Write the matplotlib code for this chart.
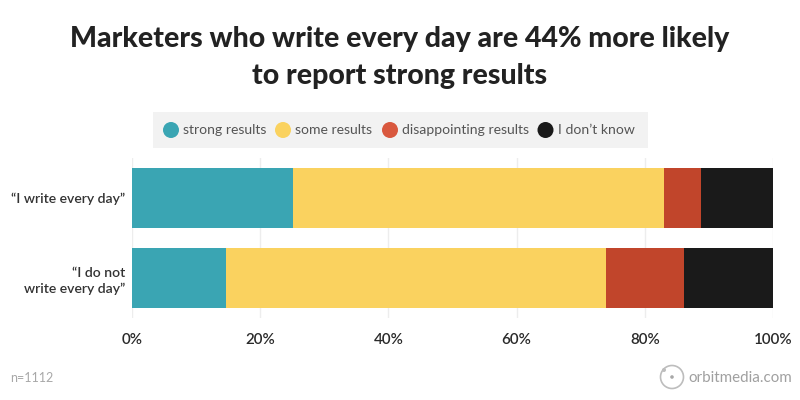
import matplotlib
matplotlib.use("Agg")
import matplotlib.pyplot as plt
from matplotlib.patches import Rectangle, Circle

categories = ["\u201cI write every day\u201d", "\u201cI do not\nwrite every day\u201d"]
series_names = ["strong results", "some results", "disappointing results", "I don\u2019t know"]
strong = [25.1, 14.7]
some = [57.9, 59.2]
disappointing = [5.7, 12.2]
dont_know = [11.3, 13.9]
ticks = [0, 20, 40, 60, 80, 100]
tick_labels = ["0%", "20%", "40%", "60%", "80%", "100%"]
bar_colors = ["#3AA5B3", "#FAD25F", "#C1452B", "#1A1A1A"]
legend_colors = ["#3AA5B3", "#FAD25F", "#D9583E", "#1A1A1A"]
title = "Marketers who write every day are 44% more likely\nto report strong results"

plt.rcParams["font.family"] = ["Lato", "DejaVu Sans"]
W, H = 800, 400
fig = plt.figure(figsize=(8, 4), dpi=100, facecolor="white")

top, bottom = 158, 318
ax = fig.add_axes([132 / W, 1 - bottom / H, (773 - 132) / W, (bottom - top) / H])
ax.set_xlim(0, 100)
ax.set_ylim(1.5, -0.5)
ys = [0, 1]
left = [0, 0]
for vals, c in zip([strong, some, disappointing, dont_know], bar_colors):
    ax.barh(ys, vals, left=left, height=0.75, color=c, zorder=3, linewidth=0)
    left = [a + b for a, b in zip(left, vals)]
ax.set_xticks(ticks, tick_labels)
ax.set_yticks(ys, categories)
ax.grid(axis="x", color="#EDEDED", linewidth=1, zorder=0)
ax.tick_params(length=0)
ax.tick_params(axis="x", pad=11, labelsize=10.9, labelcolor="#2A2A2A")
ax.tick_params(axis="y", pad=5, labelsize=10.1, labelcolor="#333333")
for lab in ax.get_xticklabels():
    lab.set_fontweight("semibold")
for lab in ax.get_yticklabels():
    lab.set_horizontalalignment("right")
    lab.set_fontweight("semibold")
    lab.set_multialignment("right")
    lab.set_linespacing(1.35)
for s in ax.spines.values():
    s.set_visible(False)

ov = fig.add_axes([0, 0, 1, 1], facecolor="none")
ov.set_xlim(0, W)
ov.set_ylim(H, 0)
ov.axis("off")
ov.set_aspect("equal")

ov.text(400, 57.5, title, ha="center", va="center", fontsize=20.5, fontweight="black",
        color="#222222", linespacing=1.5)

ov.add_patch(Rectangle((153, 112), 495, 36, facecolor="#F2F2F2", edgecolor="none"))
dot_x = [171, 283, 390, 545.5]
text_x = [183, 295, 402, 558]
for x, tx, c, name in zip(dot_x, text_x, legend_colors, series_names):
    ov.add_patch(Circle((x, 130), 8, facecolor=c, edgecolor="none"))
    ov.text(tx, 129.5, name, ha="left", va="center", fontsize=10.05, color="#555555")

ov.text(10, 378, "n=1112", ha="left", va="center", fontsize=9, color="#A8A8A8")
ov.add_patch(Circle((672, 377), 11.5, facecolor="none", edgecolor="#BDBDBD", linewidth=1.2))
ov.add_patch(Circle((672, 377), 1.8, facecolor="#A8A8A8", edgecolor="none"))
ov.add_patch(Circle((664, 370), 2, facecolor="#BDBDBD", edgecolor="none"))
ov.text(688, 377.5, "orbitmedia.com", ha="left", va="center", fontsize=10.9, color="#A0A0A0")

fig.savefig("out.png", dpi=100, facecolor="white")
